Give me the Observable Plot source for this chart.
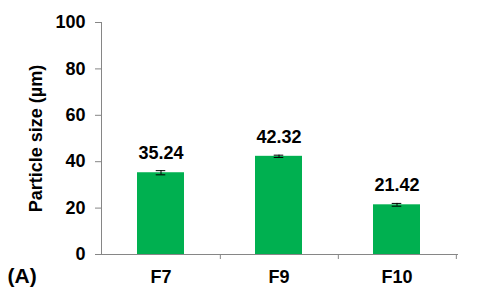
<!DOCTYPE html>
<html>
<head>
<meta charset="utf-8">
<script src="https://cdn.jsdelivr.net/npm/d3@7"></script>
<script src="https://cdn.jsdelivr.net/npm/@observablehq/plot@0.6"></script>
<style>
  html, body { margin: 0; padding: 0; background: #fff; }
  svg { font-family: "Liberation Sans", Arial, sans-serif; }
</style>
</head>
<body>
<div id="chart"></div>
<script>
const categories = ["F7", "F9", "F10"];
const sizes = [35.24, 42.32, 21.42];
const errors = [0.9, 0.5, 0.6];
const yTicks = [0, 20, 40, 60, 80, 100];
const panelLabel = "(A)";
const yLabel = "Particle size (µm)";

const data = categories.map((c, i) => ({cat: c, v: sizes[i], e: errors[i]}));

const W = 480, H = 300, ML = 101, MR = 23, MT = 22, MB = 46;
const step = (W - ML - MR) / categories.length;
const bw = step * 0.4;
const green = "#00B050";
const gray = "#868686";

const chart = Plot.plot({
  width: W, height: H,
  marginLeft: ML, marginRight: MR, marginTop: MT, marginBottom: MB,
  style: {fontFamily: "'Liberation Sans', Arial, sans-serif", background: "#fff"},
  x: {domain: categories, paddingInner: 0.6, paddingOuter: 0.3},
  y: {domain: [0, 100]},
  marks: [
    Plot.barY(data, {x: "cat", y: "v", fill: green}),
    Plot.ruleX(data, {x: "cat", y1: d => d.v - d.e, y2: d => d.v + d.e, stroke: "#000", strokeWidth: 1}),
    Plot.tickY(data, {x: "cat", y: d => d.v - d.e, stroke: "#000", insetLeft: bw/2 - 5, insetRight: bw/2 - 5}),
    Plot.tickY(data, {x: "cat", y: d => d.v + d.e, stroke: "#000", insetLeft: bw/2 - 5, insetRight: bw/2 - 5}),
    Plot.text(data, {x: "cat", y: d => d.v + d.e, text: d => d.v.toFixed(2), dy: -12, lineAnchor: "bottom", fontSize: 18, fontWeight: "bold", fill: "#000"}),
    Plot.frame({anchor: "left", stroke: gray}),
    Plot.frame({anchor: "bottom", stroke: gray}),
    Plot.axisY({ticks: yTicks, tickSize: 6, tickPadding: 10, stroke: gray, fill: "#000", fontSize: 18, fontWeight: "bold",
      label: yLabel, labelAnchor: "center", labelArrow: "none", labelOffset: 72}),
    Plot.axisX({tickSize: 5, dx: step / 2, text: null, stroke: gray, label: null}),
    Plot.axisX({tickSize: 0, tickPadding: 16, fill: "#000", fontSize: 18, fontWeight: "bold", label: null}),
    Plot.text([panelLabel], {text: d => d, frameAnchor: "bottom-left", dx: -ML + 7, dy: 28, fontSize: 21, fontWeight: "bold", fill: "#000", textAnchor: "start"})
  ]
});
document.getElementById("chart").appendChild(chart);
</script>
</body>
</html>
